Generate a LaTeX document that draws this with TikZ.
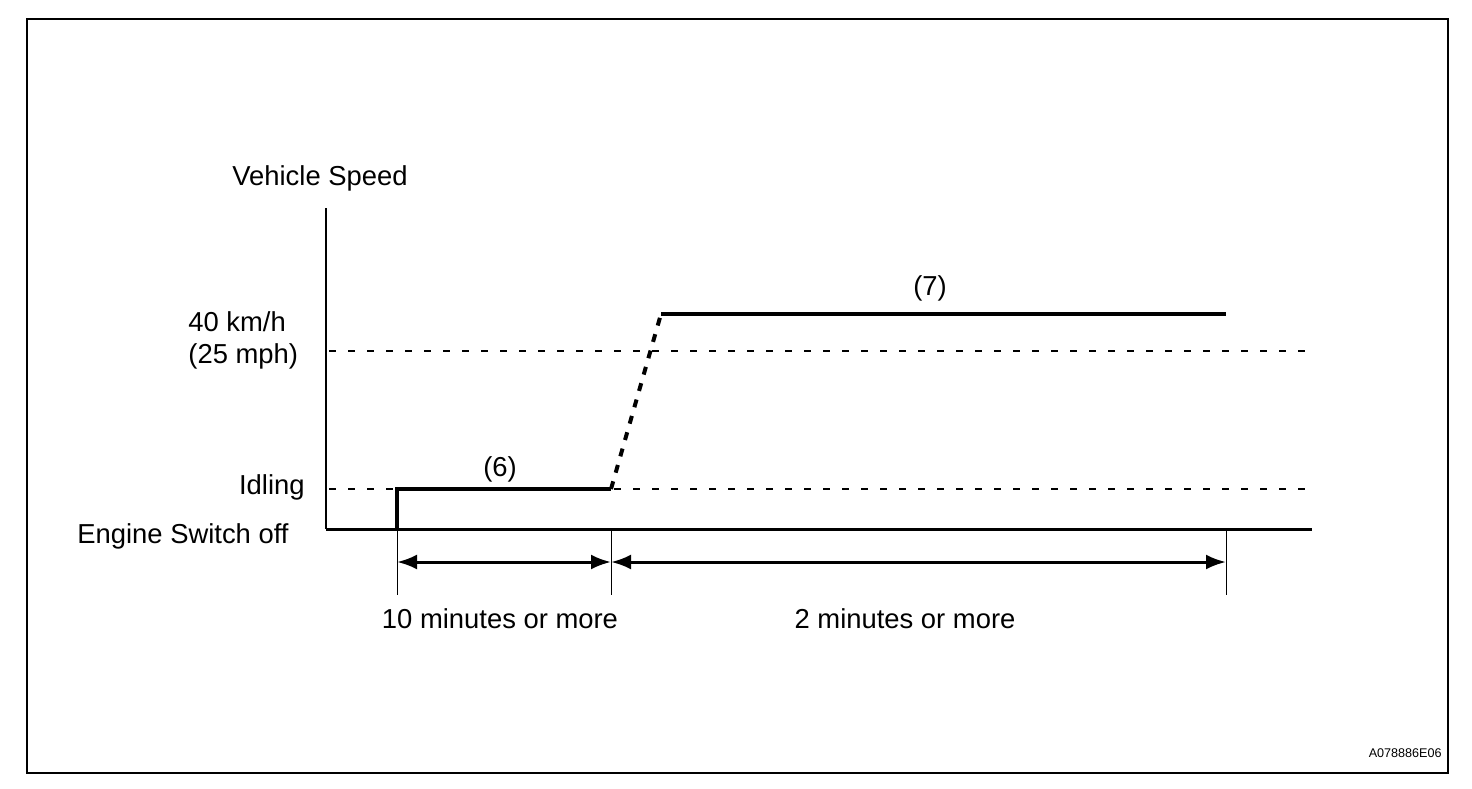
\documentclass[tikz,border=0pt]{standalone}
\usepackage{fontspec}
\setmainfont{Liberation Sans}
\usetikzlibrary{arrows.meta,calc}

\tikzset{
  dimtip/.tip={Latex[length=10pt,width=7.5pt]},
  levelline/.style={line width=0.9pt, dash pattern=on 3.5pt off 6pt},
  speedline/.style={line width=2pt},
  rampline/.style={line width=2pt, dash pattern=on 4pt off 4.5pt},
  extline/.style={line width=0.5pt},
  dimline/.style={dimtip-dimtip, line width=1.5pt},
  lbl/.style={inner sep=0pt, anchor=base}
}

\begin{document}
\begin{tikzpicture}[x=0.5pt,y=-0.5pt]
\begin{scope}[font=\fontsize{13.7}{16}\selectfont]
\useasboundingbox (0,0) rectangle (1472,788);
\draw[line width=1pt] (27,19) rectangle (1448,773);

% axes
\coordinate (ytop) at (326,208);
\coordinate (orig) at (326,529);
\coordinate (xend) at (1312,529);
\draw[line width=1pt] (ytop) -- (orig);
\draw[line width=1.5pt] (orig) -- (xend);

% speed levels
\draw[levelline] (329,351) -- (1312,351);
\draw[levelline] (329,489) -- (1312,489);

% speed profile
\coordinate (on) at (397,529);
\coordinate (idle) at (397,489);
\coordinate (idleend) at (611,489);
\coordinate (cruise) at (661,314);
\coordinate (cruiseend) at (1226,314);
\draw[speedline] (on) -- (idle) -- (idleend);
\draw[rampline] (idleend) -- (cruise);
\draw[speedline] (cruise) -- (cruiseend);

% time spans
\coordinate (t0) at (397,529);
\coordinate (t1) at (611,529);
\coordinate (t2) at (1226,529);
\foreach \t in {t0,t1,t2}
  \draw[extline] (\t) -- ++(0,66);
\draw[dimline] ($(t0)+(0,33)$) -- ($(t1)+(0,33)$);
\draw[dimline] ($(t1)+(0,33)$) -- ($(t2)+(0,33)$);

% labels
\node[lbl] (vspeed) at (320,185) {Vehicle Speed};
\node[lbl, anchor=base west] (kmh) at (188,331) {40 km/h};
\node[lbl, anchor=base west] (mph) at (188,363) {(25 mph)};
\node[lbl, anchor=base east] (idling) at (305,494) {Idling};
\node[lbl, anchor=base west] (engoff) at (77,543) {Engine Switch off};
\node[lbl] (six) at (500,476) {(6)};
\node[lbl] (seven) at (930,295) {(7)};
\node[lbl] (tenmin) at (500,628) {10 minutes or more};
\node[lbl] (twomin) at (905,628) {2 minutes or more};
\node[lbl, anchor=base east, font=\fontsize{6.3}{7}\selectfont] (code) at (1442,757) {A078886E06};
\end{scope}
\end{tikzpicture}
\end{document}
